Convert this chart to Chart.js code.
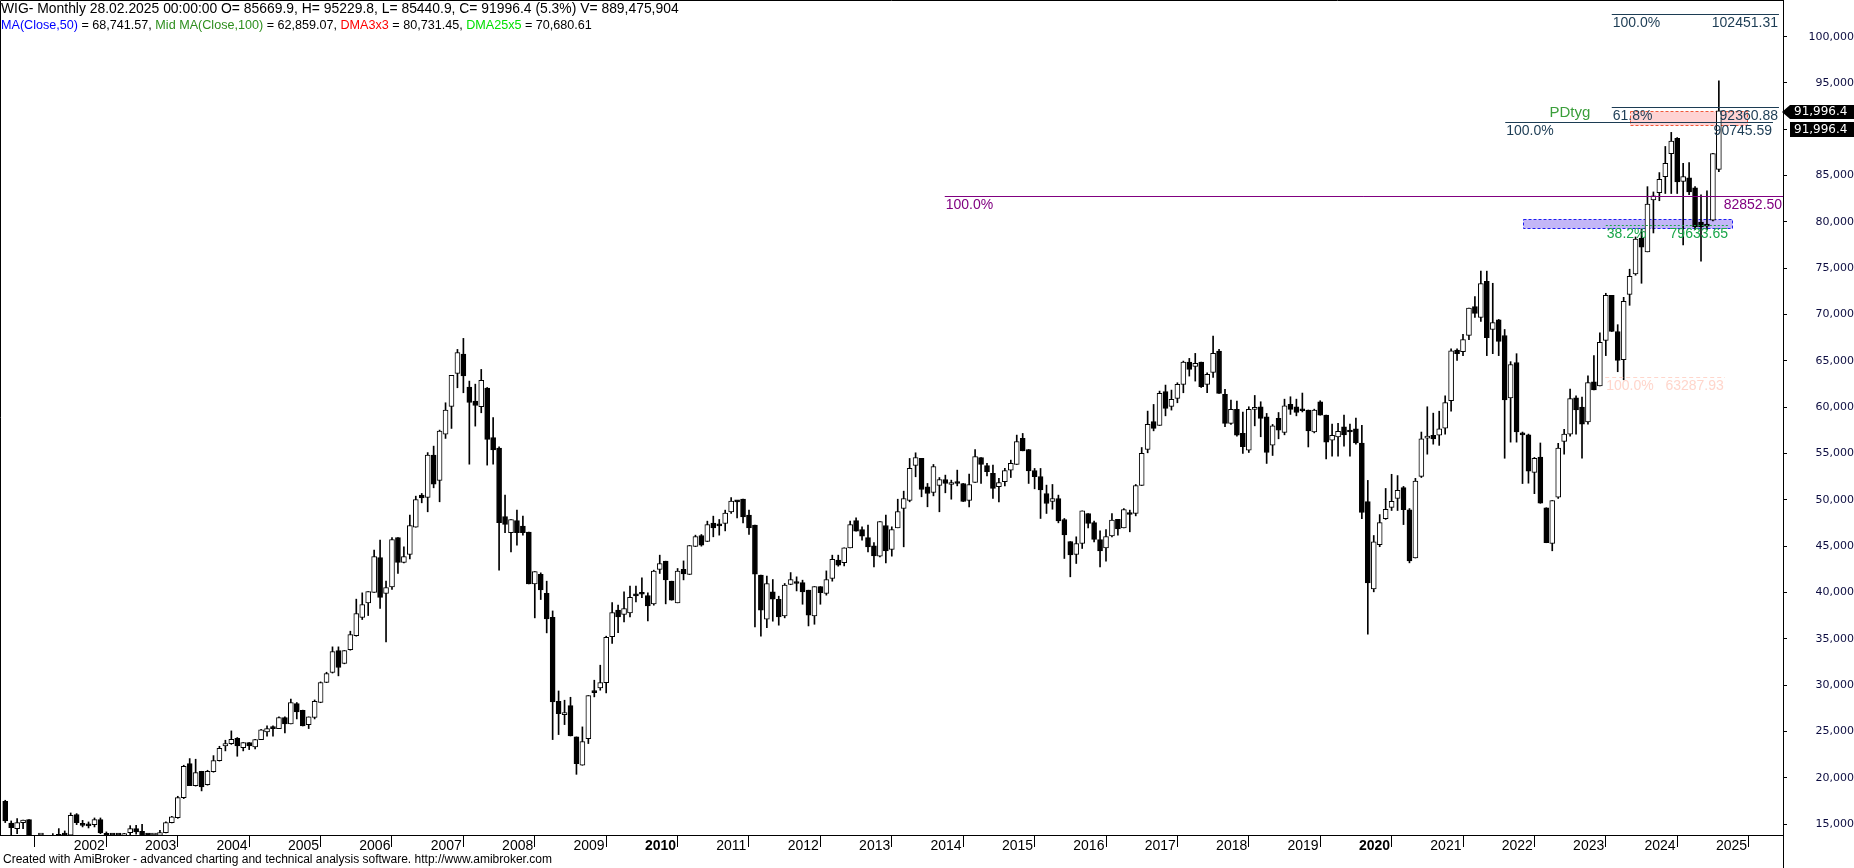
<!DOCTYPE html>
<html>
<head>
<meta charset="utf-8">
<title>WIG - Monthly</title>
<script src="https://cdn.jsdelivr.net/npm/chart.js@4/dist/chart.umd.min.js"></script>
<style>
  html, body { margin: 0; padding: 0; background: #fff; }
  #wrap { position: relative; width: 1854px; height: 868px; }
</style>
</head>
<body>
<div id="wrap"><canvas id="wig" width="1854" height="868"></canvas></div>
<script>
// Month index: 0 = Jan 2001, first candle is Feb 2001
const firstMonth = 1;

// Monthly OHLC (Feb 2001 .. Feb 2025)
const opens = [
  17460, 15120, 14510, 15160, 15480, 13400, 13000, 13200, 12400, 13300, 13880,
  13800, 16020, 15080, 14980, 14940, 15480, 14000, 13700, 13500, 13300, 14080, 14510,
  14220, 13750, 13700, 13780, 14080, 15160, 15700, 17860, 21530, 19150, 20700, 19260,
  20660, 21850, 23440, 23690, 24260, 23260, 23800, 23330, 24120, 24950, 25520, 25310,
  26500, 25810, 28010, 27290, 25740, 26500, 28120, 30280, 31360, 33730, 32330, 33840,
  35350, 37300, 38880, 40000, 43780, 39890, 40610, 45940, 43240, 44100, 47050, 50510,
  50260, 54830, 52090, 57090, 60080, 63650, 65730, 62170, 60660, 60050, 62060, 56730,
  55580, 48200, 46470, 47770, 47160, 46510, 40930, 41970, 39920, 37330, 28260, 26820,
  27790, 24410, 21350, 24230, 29340, 29700, 30270, 35240, 38090, 37620, 37800, 39780,
  39990, 39670, 38770, 42480, 43380, 41220, 38880, 42510, 41940, 44960, 46150, 45500,
  47480, 47340, 47450, 48710, 49930, 50070, 48350, 47270, 41870, 37110, 40070, 39270,
  37470, 40860, 41110, 41070, 40250, 37470, 40640, 39890, 41510, 43490, 43230, 44820,
  47770, 46800, 45930, 45030, 43920, 47230, 44640, 46980, 49070, 49930, 53710, 54470,
  51410, 50790, 51550, 52200, 51660, 51980, 51770, 49930, 51870, 54570, 53710, 52850,
  51410, 51950, 53210, 53820, 56630, 55440, 53170, 52520, 50690, 49820, 50150, 47880,
  45500, 44100, 45290, 48530, 47550, 45720, 44820, 46110, 47910, 46980, 48630, 48530,
  51550, 55440, 58460, 58030, 61700, 60080, 60950, 62460, 64870, 64400, 64870, 62460,
  63750, 66060, 61380, 58250, 59760, 57170, 55370, 59760, 60050, 58970, 55910, 58790,
  57270, 60300, 60050, 59790, 59700, 57320, 60570, 59140, 56450, 56790, 57880, 57450,
  57660, 56140, 49800, 40380, 45150, 47980, 49190, 50150, 51320, 48930, 43720, 52540,
  56660, 56970, 56970, 57750, 60700, 66170, 66000, 67740, 70870, 69690, 73600, 68390,
  69430, 67740, 61010, 64830, 57230, 57010, 52970, 54620, 49150, 45290, 50280, 56320,
  57100, 61010, 60010, 58400, 62740, 62310, 67220, 72080, 68170, 65130, 72170, 74380,
  78250, 76770, 82370, 83160, 84890, 87370, 89020, 84370, 84760, 83680, 79990, 79680,
  80200, 85669.9
];
const highs = [
  17570, 15340, 15590, 15440, 15480, 13600, 13500, 13400, 13970, 14510, 14260,
  16200, 16130, 15400, 15230, 15660, 15660, 14150, 13780, 13700, 14000, 14830, 14870,
  14980, 13950, 13900, 14330, 15230, 15840, 18000, 21350, 22070, 22000, 20700, 20810,
  22390, 23400, 24050, 25060, 24340, 23800, 23800, 24160, 25240, 25600, 25600, 26570,
  26570, 28480, 28120, 27300, 26570, 28400, 30350, 31390, 34130, 34130, 33740, 35820,
  39280, 39960, 40100, 44570, 45650, 41220, 45940, 45940, 44930, 48350, 50400, 50690,
  55100, 55800, 57530, 60480, 63430, 66240, 67430, 62820, 62490, 64080, 62130, 58890,
  55730, 50510, 47880, 48890, 48240, 46510, 42260, 42120, 41220, 38010, 29370, 28370,
  28690, 24410, 25490, 28870, 30530, 32150, 35280, 38910, 38630, 40070, 40680, 40680,
  41580, 39960, 42410, 44030, 43380, 41220, 42590, 43410, 45070, 46190, 46260, 47700,
  48240, 47880, 48890, 50250, 49930, 50070, 48890, 47270, 41870, 41760, 41400, 39600,
  40970, 42150, 41690, 41330, 40250, 40640, 40640, 42330, 44030, 44030, 44820, 47700,
  48060, 47090, 47270, 45390, 47660, 48350, 47090, 50070, 50940, 54470, 55080, 54470,
  51770, 53820, 52410, 52670, 52130, 53210, 51770, 52770, 55440, 54570, 53930, 53750,
  52310, 53390, 54290, 56990, 57170, 55440, 53390, 53390, 51590, 51660, 50510, 47990,
  45500, 46010, 48810, 48530, 47700, 46650, 46800, 48530, 47910, 49070, 48890, 51660,
  55650, 59580, 60300, 61740, 62390, 61850, 62640, 64980, 65270, 65810, 64870, 63720,
  67680, 66240, 61920, 60770, 60660, 59470, 60050, 61270, 60590, 59330, 58140, 59430,
  60870, 61130, 60870, 61530, 59700, 59790, 60700, 59140, 58180, 58270, 59140, 58180,
  58840, 58050, 52100, 46150, 48410, 51230, 52760, 52620, 51450, 49060, 52320, 57320,
  60050, 59360, 59570, 61220, 66310, 66310, 67870, 70690, 71950, 74690, 74690, 73380,
  69480, 68390, 64920, 65780, 57320, 57100, 54580, 56140, 49150, 49930, 56100, 57620,
  61960, 61220, 61090, 63390, 65570, 68040, 72300, 72080, 68910, 71860, 74900, 78380,
  79250, 83810, 83240, 85330, 88150, 89670, 89110, 86330, 86410, 83810, 82940, 83370,
  87400, 95229.8
];
const lows = [
  15160, 13700, 13970, 14510, 12900, 12600, 12700, 11700, 12300, 13100, 13500,
  13700, 14940, 14690, 14580, 14690, 13970, 13300, 13200, 12900, 13100, 13860, 13900,
  13500, 13400, 13300, 13600, 14040, 15120, 15620, 17750, 19150, 19100, 18580, 19200,
  20600, 21800, 22900, 23600, 22320, 22900, 23040, 23110, 24100, 24480, 24480, 25300,
  24840, 25800, 26350, 25590, 25310, 26350, 28100, 30270, 31300, 31000, 32300, 33770,
  35280, 37080, 37510, 40000, 38270, 34670, 40320, 42050, 43200, 43630, 47050, 49680,
  48710, 51300, 49790, 56630, 57710, 62100, 61560, 53850, 57960, 59400, 53750, 53850,
  42410, 46470, 44390, 45110, 46190, 40930, 37260, 39240, 35640, 24120, 24660, 25740,
  24510, 20370, 21350, 23690, 28730, 29450, 29160, 34490, 35670, 36830, 37370, 38990,
  39450, 36930, 38630, 42050, 38770, 39170, 38880, 41360, 41940, 44960, 45000, 45500,
  46010, 46190, 46650, 48530, 48060, 47520, 46260, 36290, 35280, 36210, 36900, 36470,
  37260, 40840, 40170, 38730, 36390, 36570, 38730, 39710, 41220, 42840, 42870, 44820,
  46620, 45650, 44390, 42770, 43850, 43200, 43920, 46980, 44930, 49790, 52490, 50330,
  49250, 50430, 48710, 50760, 50070, 51510, 49820, 49250, 51870, 51770, 52590, 50150,
  49790, 51510, 52410, 53820, 55290, 51770, 51190, 47990, 48530, 48990, 47520, 43670,
  41690, 43130, 44750, 46980, 45470, 42770, 43380, 46010, 46190, 46980, 46550, 48270,
  51550, 55080, 57450, 58030, 59070, 59690, 60480, 61560, 63360, 62820, 62130, 61560,
  63210, 61490, 57890, 58140, 56880, 55010, 55110, 57990, 56810, 53930, 54790, 56590,
  57020, 59220, 59070, 59490, 55710, 57230, 59140, 54410, 54710, 54710, 55800, 54710,
  56010, 47980, 35500, 40070, 44940, 47890, 48850, 48850, 47330, 43200, 43720, 52410,
  54930, 56010, 55880, 57100, 59570, 65050, 65570, 67300, 69690, 69260, 65570, 65780,
  65570, 54490, 56230, 56230, 51760, 51800, 50670, 49630, 45370, 44500, 50150, 54930,
  56880, 57100, 54490, 58180, 61880, 62310, 65570, 68170, 63830, 62960, 71000, 74250,
  73380, 76770, 78810, 82290, 83070, 83070, 83070, 77510, 82940, 79160, 75770, 79160,
  80120, 85440.9
];
const closes = [
  15340, 14620, 15160, 15440, 13400, 13000, 13200, 12400, 13300, 13880, 13790,
  15950, 15160, 14860, 14800, 15480, 14040, 13700, 13500, 13300, 13970, 14510, 14150,
  13700, 13700, 13780, 14080, 15160, 15770, 17860, 21240, 19150, 20560, 19010, 20700,
  21850, 23180, 23690, 24160, 23440, 23800, 23440, 24120, 25160, 25310, 25310, 26500,
  25810, 28120, 27110, 25600, 26570, 28260, 30280, 31250, 33620, 31900, 33730, 35460,
  37730, 38700, 40100, 43880, 39460, 40540, 45720, 43240, 43880, 47230, 50040, 50220,
  54830, 51690, 57420, 59690, 63430, 65910, 63390, 60510, 60190, 62890, 56520, 55400,
  47550, 47340, 47880, 46470, 46470, 40930, 42260, 40280, 37150, 28190, 26930, 27030,
  24510, 21530, 23900, 28870, 29190, 30270, 35170, 37830, 37370, 38270, 39490, 39630,
  39810, 38550, 42300, 43130, 41360, 39170, 42300, 42010, 45070, 46040, 45110, 47340,
  46980, 47190, 48560, 49860, 49790, 48170, 46980, 41970, 38090, 40970, 39270, 37370,
  40790, 41400, 40970, 40070, 37550, 40640, 39990, 41400, 43590, 42950, 44820, 47340,
  46620, 46080, 44930, 43950, 47660, 44490, 46800, 48740, 50150, 53390, 54570, 51120,
  50690, 53600, 52200, 51770, 51870, 51770, 49820, 51660, 54680, 53820, 53030, 51230,
  51870, 53170, 53930, 56300, 55290, 53130, 52490, 51080, 49610, 50150, 47730, 46220,
  44060, 45290, 48810, 47450, 45720, 44490, 46040, 47810, 46870, 48960, 48420, 51550,
  55010, 58140, 57710, 61490, 59870, 60840, 62460, 64870, 64080, 64730, 62210, 63540,
  65810, 61490, 58250, 59760, 56990, 55730, 59760, 59970, 58790, 55110, 57990, 57530,
  60150, 59760, 59430, 59620, 57450, 59700, 59140, 56230, 56970, 57400, 57010, 57320,
  56140, 48630, 41030, 45460, 47540, 48980, 49850, 51020, 48930, 43420, 52020, 56580,
  56880, 56580, 57660, 60490, 66090, 65780, 67300, 70690, 70130, 73340, 67520, 69130,
  67090, 60790, 64610, 57320, 57010, 53100, 54490, 49630, 45370, 49930, 55580, 57100,
  60920, 59700, 58180, 62660, 61880, 67000, 72080, 68170, 65050, 71430, 74120, 78160,
  77290, 81940, 82810, 84590, 86330, 88720, 84330, 84890, 83240, 79460, 79460, 79550,
  87370, 91996.4
];

// axis ticks
const yearTicks = [2002, 2003, 2004, 2005, 2006, 2007, 2008, 2009, 2010, 2011, 2012, 2013,
  2014, 2015, 2016, 2017, 2018, 2019, 2020, 2021, 2022, 2023, 2024, 2025];
const boldYears = [2010, 2020];
const priceTicks = [15000, 20000, 25000, 30000, 35000, 40000, 45000, 50000, 55000, 60000,
  65000, 70000, 75000, 80000, 85000, 90000, 95000, 100000];

// drawn levels (value, label, month span)
const levelValues = [102451.31, 92360.88, 90745.59, 82852.50, 79633.65, 63287.93];
const levelLabels = ['100.0%', '61.8%', '100.0%', '100.0%', '38.2%', '100.0%'];
const levelFrom = [271.0, 271.0, 253.1, 158.9, 270.0, 269.9];
const levelTo = [299.1, 299.1, 298.1, 299.8, 290.7, 290.0];
const levelColors = ['#1c3c54', '#1c3c54', '#1c3c54', '#800080', '#1aa64a', '#ffd6cc'];
const levelDash = [[], [], [], [], [2, 2], [4, 3]];

// shaded zones
const zoneTops = [92030, 80330];
const zoneBottoms = [90450, 79330];
const zoneFrom = [274.1, 256.1];
const zoneTo = [293.7, 291.2];
const zoneFill = ['#ffd3d3', '#c3b6f7'];
const zoneStroke = ['#f0583a', '#1e1ef0'];

const lastClose = closes[closes.length - 1];

const idx = opens.map((_, k) => firstMonth + k);
const wickData = idx.map((x, k) => ({ x: x, y: [lows[k], highs[k]] }));
const bodyData = idx.map((x, k) => ({ x: x, y: [Math.min(opens[k], closes[k]), Math.max(opens[k], closes[k])] }));
const bodyFill = idx.map((_, k) => closes[k] >= opens[k] ? '#ffffff' : '#000000');

const FONT = 'Liberation Sans, Arial, sans-serif';

const overlay = {
  id: 'overlay',
  beforeDatasetsDraw(chart) {
    const { ctx, scales: { x, y } } = chart;
    ctx.save();
    zoneTops.forEach((top, k) => {
      const x0 = Math.round(x.getPixelForValue(zoneFrom[k])) + 0.5;
      const x1 = Math.round(x.getPixelForValue(zoneTo[k])) + 0.5;
      const y0 = Math.round(y.getPixelForValue(top)) + 0.5;
      const y1 = Math.round(y.getPixelForValue(zoneBottoms[k])) + 0.5;
      ctx.fillStyle = zoneFill[k];
      ctx.fillRect(x0, y0, x1 - x0, y1 - y0);
      ctx.strokeStyle = zoneStroke[k];
      ctx.lineWidth = 1;
      ctx.setLineDash([3, 2]);
      ctx.strokeRect(x0, y0, x1 - x0, y1 - y0);
    });
    ctx.restore();
  },
  afterDatasetsDraw(chart) {
    const { ctx, scales: { x, y } } = chart;
    ctx.save();
    ctx.font = '14px ' + FONT;
    ctx.textBaseline = 'top';
    levelValues.forEach((v, k) => {
      const py = Math.round(y.getPixelForValue(v)) + 0.5;
      const x0 = x.getPixelForValue(levelFrom[k]);
      const x1 = x.getPixelForValue(levelTo[k]);
      ctx.strokeStyle = levelColors[k];
      ctx.lineWidth = 1;
      ctx.setLineDash(levelDash[k]);
      ctx.beginPath();
      ctx.moveTo(x0, py);
      ctx.lineTo(x1, py);
      ctx.stroke();
      ctx.fillStyle = levelColors[k];
      ctx.textAlign = 'left';
      ctx.fillText(levelLabels[k], x0 + 1, py + 2);
      ctx.textAlign = 'right';
      ctx.fillText(v.toFixed(2), x1 - 1, py + 2);
    });
    // study name above the 100% line
    ctx.font = '15px ' + FONT;
    ctx.fillStyle = '#3a9e3a';
    ctx.textAlign = 'right';
    ctx.textBaseline = 'bottom';
    ctx.fillText('PDtyg', x.getPixelForValue(267.4), y.getPixelForValue(levelValues[2]) - 2);
    ctx.restore();
  },
  afterDraw(chart) {
    const { ctx, chartArea: a, scales: { y } } = chart;
    ctx.save();
    // frame
    ctx.strokeStyle = '#000';
    ctx.lineWidth = 1;
    ctx.beginPath();
    ctx.moveTo(0.5, a.bottom);
    ctx.lineTo(0.5, 0.5);
    ctx.lineTo(a.right, 0.5);
    ctx.moveTo(a.right + 0.5, a.bottom);
    ctx.lineTo(a.right + 0.5, chart.height);
    ctx.stroke();

    // header
    ctx.textBaseline = 'alphabetic';
    ctx.textAlign = 'left';
    ctx.font = '13.9px ' + FONT;
    ctx.fillStyle = '#000';
    ctx.fillText('WIG- Monthly 28.02.2025 00:00:00 O= 85669.9, H= 95229.8, L= 85440.9, C= 91996.4 (5.3%) V= 889,475,904', 1, 13);
    const parts = [
      ['MA(Close,50)', '#0000ff'], [' = 68,741.57, ', '#000'],
      ['Mid MA(Close,100)', '#2f8f1f'], [' = 62,859.07, ', '#000'],
      ['DMA3x3', '#ff0000'], [' = 80,731.45, ', '#000'],
      ['DMA25x5', '#00e000'], [' = 70,680.61', '#000']
    ];
    ctx.font = '12.6px ' + FONT;
    let tx = 1;
    parts.forEach(p => {
      ctx.fillStyle = p[1];
      ctx.fillText(p[0], tx, 29);
      tx += ctx.measureText(p[0]).width;
    });

    // footer
    ctx.font = '12px ' + FONT;
    ctx.fillStyle = '#000';
    ctx.fillText('Created with AmiBroker - advanced charting and technical analysis software. http://www.amibroker.com', 3, 863);

    // last price marks on the axis
    const yc = Math.round(y.getPixelForValue(lastClose));
    const label = lastClose.toLocaleString('en-US', { minimumFractionDigits: 1 });
    ctx.fillStyle = '#000';
    ctx.beginPath();
    ctx.moveTo(a.right - 1, yc + 1);
    ctx.lineTo(a.right + 7, yc - 6);
    ctx.lineTo(chart.width, yc - 6);
    ctx.lineTo(chart.width, yc + 8);
    ctx.lineTo(a.right + 7, yc + 8);
    ctx.closePath();
    ctx.fill();
    ctx.fillRect(a.right + 7, yc + 11, chart.width - a.right - 7, 15);
    ctx.fillStyle = '#fff';
    ctx.font = '12px DejaVu Sans, sans-serif';
    ctx.textBaseline = 'middle';
    ctx.fillText(label, a.right + 11, yc + 1);
    ctx.fillText(label, a.right + 11, yc + 18.5);
    ctx.restore();
  }
};

const yearFont = c => {
  const yr = c && c.tick ? 2001 + c.tick.value / 12 : 0;
  return { family: FONT, size: 14, weight: boldYears.includes(yr) ? 'bold' : 'normal' };
};

const ctx = document.getElementById('wig').getContext('2d');
new Chart(ctx, {
  type: 'bar',
  data: {
    datasets: [
      {
        label: 'wick',
        data: wickData,
        backgroundColor: '#000',
        barThickness: 1,
        grouped: false,
        order: 2
      },
      {
        label: 'body',
        data: bodyData,
        backgroundColor: bodyFill,
        borderColor: '#000',
        borderWidth: 1,
        borderSkipped: false,
        barThickness: 5,
        minBarLength: 2,
        grouped: false,
        order: 1
      }
    ]
  },
  options: {
    responsive: false,
    animation: false,
    events: [],
    layout: { padding: 0 },
    plugins: { legend: { display: false }, tooltip: { enabled: false } },
    scales: {
      x: {
        type: 'linear',
        min: 0.12,
        max: 299.78,
        offset: false,
        afterBuildTicks: s => { s.ticks = yearTicks.map(yr => ({ value: (yr - 2001) * 12 })); },
        afterFit: s => { s.height = 33; s.paddingLeft = 0; s.paddingRight = 0; },
        grid: { drawOnChartArea: false, drawTicks: true, tickLength: 12, color: '#000' },
        border: { display: true, color: '#000', width: 1 },
        ticks: {
          autoSkip: false,
          maxRotation: 0,
          align: 'start',
          padding: -9,
          labelOffset: 3,
          color: '#000',
          font: yearFont,
          callback: v => String(2001 + v / 12)
        }
      },
      y: {
        type: 'linear',
        position: 'right',
        min: 13820,
        max: 103960,
        afterBuildTicks: s => { s.ticks = priceTicks.map(v => ({ value: v })); },
        afterFit: s => { s.width = 71; s.paddingTop = 0; s.paddingBottom = 0; },
        grid: { drawOnChartArea: false, drawTicks: true, tickLength: 4, color: '#000' },
        border: { display: true, color: '#000', width: 1 },
        ticks: {
          crossAlign: 'far',
          padding: 16,
          color: '#0c0c40',
          font: { family: 'DejaVu Sans, sans-serif', size: 11 },
          callback: v => v.toLocaleString('en-US')
        }
      }
    }
  },
  plugins: [overlay]
});
</script>
</body>
</html>
